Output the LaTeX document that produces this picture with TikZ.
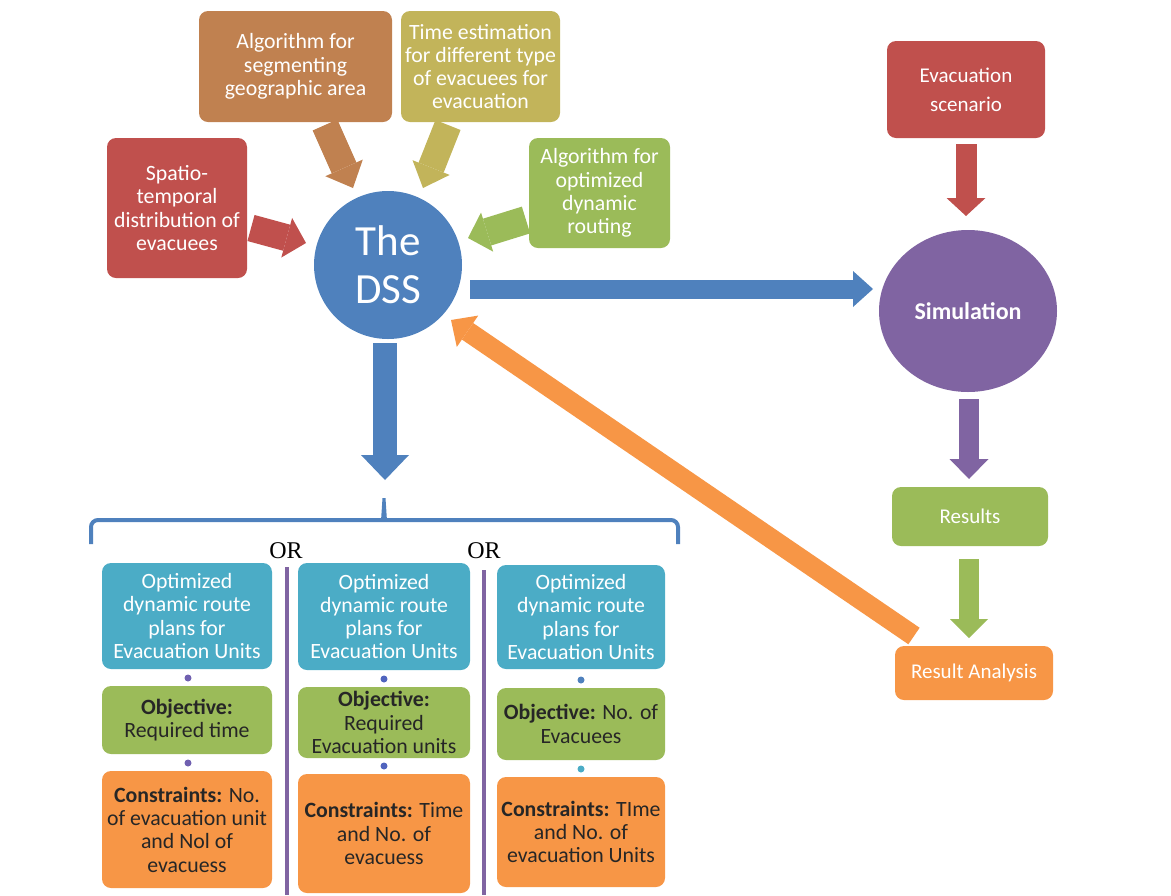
\documentclass[tikz,border=0pt]{standalone}
\usepackage{fontspec}
\setmainfont{Carlito}
\newfontfamily\orfont{Liberation Serif}
\usetikzlibrary{shapes.geometric,arrows.meta}

\definecolor{dssblue}{RGB}{79,129,189}
\definecolor{boxred}{RGB}{192,80,77}
\definecolor{boxgreen}{RGB}{155,187,89}
\definecolor{boxbrown}{RGB}{192,129,80}
\definecolor{boxolive}{RGB}{194,180,90}
\definecolor{simpurple}{RGB}{128,100,162}
\definecolor{plancyan}{RGB}{75,172,198}
\definecolor{resorange}{RGB}{247,150,70}
\definecolor{dotpurple}{RGB}{112,96,176}
\definecolor{dotblue}{RGB}{80,100,190}

\tikzset{
  box/.style={rectangle,rounded corners=9pt,text=white,align=center,inner sep=0pt,
    font=\fontsize{21.8}{23.3}\selectfont},
  colbox/.style={box,text=black!85},
  blockarrow/.style n args={3}{line width=#1,-{Triangle[width=#2,length=#3,line width=0pt]}},
  dot/.style={circle,inner sep=0pt,minimum size=7pt},
  divider/.style={simpurple,line width=4pt},
  orlabel/.style={font=\orfont\fontsize{24}{24}\selectfont},
}

\begin{document}
\begin{tikzpicture}[x=1pt,y=-1pt]
\useasboundingbox (0,0) rectangle (1171,895);

%inputs of the DSS
\node[box,fill=boxbrown,minimum width=193,minimum height=111] (segm) at (295.5,66.5) {Algorithm for\\segmenting\\geographic area};
\node[box,fill=boxolive,minimum width=159,minimum height=111] (time) at (480.5,66.5) {Time estimation\\for different type\\of evacuees for\\evacuation};
\node[box,fill=boxred,minimum width=140,minimum height=140] (spat) at (177,208) {Spatio-\\temporal\\distribution of\\evacuees};
\node[box,fill=boxgreen,minimum width=141,minimum height=110] (rout) at (599.5,193) {Algorithm for\\optimized\\dynamic\\routing};
%the DSS
\node[circle,fill=dssblue,text=white,minimum size=148,inner sep=0pt,align=center,
  font=\fontsize{43}{48}\selectfont] (dss) at (388,265) {The\\DSS};

%simulation side
\node[box,fill=boxred,minimum width=158,minimum height=97,font=\fontsize{21}{29}\selectfont] (scen) at (966,89.5) {Evacuation\\scenario};
\node[ellipse,fill=simpurple,text=white,minimum width=178,minimum height=162,inner sep=0pt,
  font=\bfseries\fontsize{24}{28}\selectfont] (sim) at (968,311) {Simulation};
\node[box,fill=boxgreen,minimum width=156,minimum height=59,font=\fontsize{21}{24}\selectfont] (res) at (970,516.5) {Results};
\node[box,fill=resorange,minimum width=158,minimum height=54,font=\fontsize{21}{24}\selectfont] (ana) at (974,673) {Result Analysis};

%route plan columns
\node[box,fill=plancyan,minimum width=170,minimum height=106] (plan1) at (187,616) {Optimized\\dynamic route\\plans for\\Evacuation Units};
\node[box,fill=plancyan,minimum width=172,minimum height=107] (plan2) at (384,616.5) {Optimized\\dynamic route\\plans for\\Evacuation Units};
\node[box,fill=plancyan,minimum width=168,minimum height=104] (plan3) at (581,617) {Optimized\\dynamic route\\plans for\\Evacuation Units};
\node[colbox,fill=boxgreen,minimum width=170,minimum height=68] (obj1) at (187,720) {\textbf{Objective:}\\Required time};
\node[colbox,fill=boxgreen,minimum width=172,minimum height=71] (obj2) at (384,722.5) {\textbf{Objective:}\\Required\\Evacuation units};
\node[colbox,fill=boxgreen,minimum width=168,minimum height=72] (obj3) at (581,724) {\textbf{Objective:} No. of\\Evacuees};
\node[colbox,fill=resorange,minimum width=170,minimum height=117] (cons1) at (187,829.5) {\textbf{Constraints:} No.\\of evacuation unit\\and Nol of\\evacuess};
\node[colbox,fill=resorange,minimum width=172,minimum height=119] (cons2) at (384,833.5) {\textbf{Constraints:} Time\\and No. of\\evacuess};
\node[colbox,fill=resorange,minimum width=168,minimum height=110] (cons3) at (581,832) {\textbf{Constraints:} TIme\\and No. of\\evacuation Units};
%small dots between the boxes
\foreach \c/\x/\ya/\yb/\ca/\cb in {1/188/678/763/dotpurple/dotpurple,2/384/679/766/dotblue/dotblue,3/581/680/769/dssblue/plancyan}
{
\node[dot,fill=\ca] (top\c) at (\x,\ya) {};
\node[dot,fill=\cb] (bot\c) at (\x,\yb) {};
}

%brace over the columns
\draw[dssblue,line width=4pt,rounded corners=7pt] (91,544) -- (91,520) -- (678,520) -- (678,544);
\fill[dssblue] (381,521) -- (382.5,498) -- (385.5,498) -- (387,521) -- cycle;
\node[orlabel] (or1) at (286,551) {OR};
\node[orlabel] (or2) at (484,551) {OR};
\draw[divider] (287,567) -- (287,895);
\draw[divider] (484,570) -- (484,895);

%block arrows into the DSS
\coordinate (segmout) at (325,125);
\coordinate (segmin) at (353,188);
\coordinate (timeout) at (448,125);
\coordinate (timein) at (423,188);
\coordinate (spatout) at (251,228);
\coordinate (spatin) at (306,243);
\coordinate (routout) at (526,220);
\coordinate (routin) at (468,238);
\draw[blockarrow={27pt}{41pt}{22pt},boxbrown] (segmout) -- (segmin);
\draw[blockarrow={27pt}{40pt}{22pt},boxolive] (timeout) -- (timein);
\draw[blockarrow={27pt}{41pt}{20pt},boxred] (spatout) -- (spatin);
\draw[blockarrow={28pt}{41pt}{20pt},boxgreen] (routout) -- (routin);
%block arrows out of the DSS
\coordinate (dssright) at (470,289);
\coordinate (simleft) at (873,289);
\coordinate (dssdown) at (385,343);
\coordinate (bracetop) at (385,480);
\draw[blockarrow={19pt}{36pt}{20pt},dssblue] (dssright) -- (simleft);
\draw[blockarrow={24pt}{48pt}{25pt},dssblue] (dssdown) -- (bracetop);
%simulation chain
\coordinate (scenout) at (966,144);
\coordinate (simtop) at (966,216);
\coordinate (simout) at (969,399);
\coordinate (restop) at (969,479);
\coordinate (resout) at (969,559);
\coordinate (anatop) at (969,638);
\coordinate (anaout) at (914,636);
\coordinate (dssback) at (451,320);
\draw[blockarrow={21pt}{39pt}{18pt},boxred] (scenout) -- (simtop);
\draw[blockarrow={20pt}{39pt}{20pt},simpurple] (simout) -- (restop);
\draw[blockarrow={20pt}{38pt}{19pt},boxgreen] (resout) -- (anatop);
\draw[blockarrow={20pt}{38pt}{20pt},resorange] (anaout) -- (dssback);
\end{tikzpicture}
\end{document}
